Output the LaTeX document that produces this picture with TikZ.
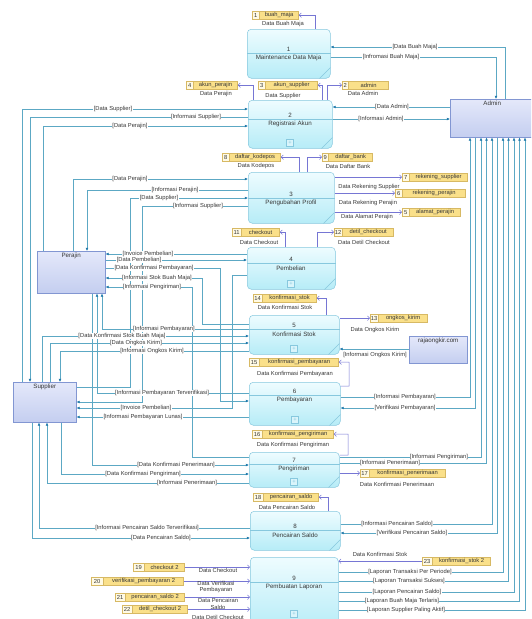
\documentclass[tikz,border=0pt]{standalone}
\usepackage{fontspec}
\setmainfont{Liberation Sans}
\usetikzlibrary{arrows.meta,calc}
\definecolor{procB}{RGB}{135,200,222}
\definecolor{procT}{RGB}{238,252,255}
\definecolor{procBot}{RGB}{182,236,247}
\definecolor{entB}{RGB}{130,150,210}
\definecolor{entT}{RGB}{228,232,250}
\definecolor{entBot}{RGB}{196,206,240}
\definecolor{flowC}{RGB}{92,168,196}
\definecolor{arrC}{RGB}{30,120,170}
\definecolor{dsC}{RGB}{118,118,212}
\definecolor{dsB}{RGB}{215,185,100}
\definecolor{dsFill}{RGB}{250,224,138}
\definecolor{dsNum}{RGB}{255,250,228}
\definecolor{txtC}{RGB}{55,55,55}
\newcommand\fs{\fontsize{5.8}{6.3}\selectfont}
\newcommand\fp{\fontsize{6.2}{6.8}\selectfont}
\newcommand\proc[8]{%
  \node[procbox, minimum width={#4pt-#2pt}, minimum height={#5pt-#3pt}, anchor=north west] (#1) at (#2,#3) {};
  \draw[procB, line width=0.5pt] (#1.west |- 0,#6) -- (#1.east |- 0,#6);
  \draw[procB, line width=0.5pt] ($(#1.south east)+(-11,0)$) -- ($(#1.south east)+(0,-11)$);
  \node[ptext] (#1num) at ({(#2+#4)/2},#6-4) {#7};
  \node[ptext] (#1lab) at ({(#2+#4)/2},#6+5) {#8};}
\newcommand\dstore[7]{%
  \node[dsnumbox, minimum width=#4pt, anchor=north west] (#1n) at (#2,#3) {#6};
  \node[dsnamebox, minimum width=#5pt, anchor=north west] (#1) at (#1n.north east) {#7};}
\newcommand\lab[4]{\node[lbl] (#1) at (#2,#3) {#4};}
\newcommand\dlab[4]{\node[dtext] (#1) at (#2,#3) {#4};}
\begin{document}
\begin{tikzpicture}[x=1pt,y=-1pt,
  procbox/.style={draw=procB, line width=0.5pt, rounded corners=4pt, top color=procT, bottom color=procBot, inner sep=0},
  entbox/.style={draw=entB, line width=0.5pt, top color=entT, bottom color=entBot, inner sep=0},
  ptext/.style={font=\fp, text=txtC, inner sep=0},
  etext/.style={font=\fp, text=txtC, inner sep=2pt},
  dsnumbox/.style={draw=dsB, line width=0.4pt, fill=dsNum, minimum height=8pt, inner sep=0, font=\fs, text=txtC},
  dsnamebox/.style={draw=dsB, line width=0.4pt, fill=dsFill, minimum height=8pt, inner sep=0, font=\fs, text=txtC},
  plusbox/.style={draw=procB, line width=0.4pt, fill=white!50!procBot, minimum size=7pt, inner sep=0, font=\fs, text=procB},
  lbl/.style={font=\fs, text=txtC, fill=white, inner sep=0.4pt},
  dtext/.style={font=\fs, text=txtC, inner sep=0, align=center},
  flow/.style={draw=flowC, line width=0.5pt},
  fin/.style={flow, -{Latex[length=3.2pt,width=2.8pt,color=arrC]}},
  dflow/.style={draw=dsC, line width=0.5pt, -{Straight Barb[length=2.2pt,width=4.5pt]}}
]
\useasboundingbox (0,0) rectangle (531,619);
\clip (0,0) rectangle (531,619);

% ---------- processes ----------
\proc{p1}{247}{29}{330}{78}{53}{1}{Maintenance Data Maja}
\proc{p2}{248}{100}{332}{148}{119}{2}{Registrasi Akun}
\proc{p3}{248}{172}{334}{223}{198}{3}{Pengubahan Profil}
\proc{p4}{247}{247}{335}{289}{263}{4}{Pembelian}
\proc{p5}{249}{315}{339}{354}{329}{5}{Konfirmasi Stok}
\proc{p6}{249}{382}{340}{425}{395}{6}{Pembayaran}
\proc{p7}{249}{452}{339}{487}{464}{7}{Pengiriman}
\proc{p8}{250}{511}{340}{550}{530}{8}{Pencairan Saldo}
\proc{p9}{250}{557}{338}{630}{582}{9}{Pembuatan Laporan}
\node[plusbox] (p2plus) at (290,143) {+};
\node[plusbox] (p4plus) at (291,284) {+};
\node[plusbox] (p5plus) at (294,349) {+};
\node[plusbox] (p6plus) at (295,420) {+};
\node[plusbox] (p7plus) at (294,482) {+};
\node[plusbox] (p9plus) at (294,614) {+};

% ---------- entities ----------
\node[entbox, minimum width=84pt, minimum height=38pt, anchor=north west] (adm) at (450,99) {};
\node[etext, anchor=north] (admT) at (adm.north) {Admin};
\node[entbox, minimum width=68pt, minimum height=42pt, anchor=north west] (per) at (37,251) {};
\node[etext, anchor=north] (perT) at (per.north) {Perajin};
\node[entbox, minimum width=63pt, minimum height=40pt, anchor=north west] (sup) at (13,382) {};
\node[etext, anchor=north] (supT) at (sup.north) {Supplier};
\node[entbox, minimum width=58pt, minimum height=27pt, anchor=north west] (raja) at (409,336) {};
\node[etext, anchor=north] (rajaT) at (raja.north) {rajaongkir.com};

% ---------- data stores ----------
\dstore{s1}{252}{11}{7}{39}{1}{buah\_maja}
\dstore{s4}{186}{81}{7}{44}{4}{akun\_perajin}
\dstore{s3}{258}{81}{7}{52}{3}{akun\_supplier}
\dstore{s2}{342}{81}{6}{40}{2}{admin}
\dstore{s8}{222}{153}{7}{51}{8}{daftar\_kodepos}
\dstore{s9}{322}{153}{6}{44}{9}{daftar\_bank}
\dstore{s7}{402}{173}{7}{58}{7}{rekening\_supplier}
\dstore{s6}{395}{189}{7}{63}{6}{rekening\_perajin}
\dstore{s5}{402}{208}{7}{51}{5}{alamat\_perajin}
\dstore{s11}{232}{228}{9}{38}{11}{checkout}
\dstore{s12}{334}{228}{8}{51}{12}{detil\_checkout}
\dstore{s14}{253}{294}{9}{54}{14}{konfirmasi\_stok}
\dstore{s13}{370}{314}{8}{49}{13}{ongkos\_kirim}
\dstore{s15}{249}{358}{10}{79}{15}{konfirmasi\_pembayaran}
\dstore{s16}{252}{430}{10}{71}{16}{konfirmasi\_pengiriman}
\dstore{s17}{360}{469}{9}{76}{17}{konfirmasi\_penerimaan}
\dstore{s18}{253}{493}{10}{55}{18}{pencairan\_saldo}
\dstore{s23}{422}{557}{10}{58}{23}{konfirmasi\_stok 2}
\dstore{s19}{133}{563}{11}{40}{19}{checkout 2}
\dstore{s20}{91}{577}{12}{80}{20}{verifikasi\_pembayaran 2}
\dstore{s21}{115}{593}{10}{59}{21}{pencairan\_saldo 2}
\dstore{s22}{122}{605}{10}{55}{22}{detil\_checkout 2}

% ---------- data store flows ----------
\draw[dflow] (p1.north -| 315,0) |- (s1.east);
\draw[dflow] (p2.north -| 253,0) |- (s4.east);
\draw[dflow] (p2.north -| 322,0) |- (s3.east);
\draw[dflow] (p2.north -| 327,0) |- (s2n.west);
\draw[dflow] (p3.north -| 299,0) |- (s8.east);
\draw[dflow] (p3.north -| 307,0) |- (s9n.west);
\draw[dflow] (p3.east |- s7n.west) -- (s7n.west);
\draw[dflow] (p3.east |- s6n.west) -- (s6n.west);
\draw[dflow] (p3.east |- s5n.west) -- (s5n.west);
\draw[dflow] (p4.north -| 285,0) |- (s11.east);
\draw[dflow] (p4.north -| 317,0) |- (s12n.west);
\draw[dflow] (p5.north -| 326,0) |- (s14.east);
\draw[dflow] (p5.east |- s13n.west) -- (s13n.west);
\draw[dflow] (p6.east |- 0,386) -| (349,362) -- (s15.east);
\draw[dflow] (p7.east |- 0,455) -| (348,434) -- (s16.east);
\draw[dflow] (p7.east |- s17n.west) -- (s17n.west);
\draw[dflow] (p8.north -| 328,0) |- (s18.east);
\draw[dflow] (s19.east) -- (p9.west |- s19.east);
\draw[dflow] (s20.east) -- (p9.west |- s20.east);
\draw[dflow] (s21.east) -- (p9.west |- s21.east);
\draw[dflow] (s22.east) -- (p9.west |- s22.east);
\draw[dflow] (s23n.west) -- (p9.east |- s23n.west);

\dlab{t1}{283}{24}{Data Buah Maja}
\dlab{t4}{216}{94}{Data Perajin}
\dlab{t3}{283}{96}{Data Supplier}
\dlab{t2}{363}{93}{Data Admin}
\dlab{t8}{256}{166}{Data Kodepos}
\dlab{t9}{348}{166}{Data Daftar Bank}
\dlab{t7}{369}{187}{Data Rekening Supplier}
\dlab{t6}{368}{203}{Data Rekening Perajin}
\dlab{t5}{367}{217}{Data Alamat Perajin}
\dlab{t11}{259}{242}{Data Checkout}
\dlab{t12}{364}{242}{Data Detil Checkout}
\dlab{t14}{285}{307}{Data Konfirmasi Stok}
\dlab{t13}{375}{330}{Data Ongkos Kirim}
\dlab{t15}{295}{374}{Data Konfirmasi Pembayaran}
\dlab{t16}{293}{445}{Data Konfirmasi Pengiriman}
\dlab{t17}{397}{484}{Data Konfirmasi Penerimaan}
\dlab{t18}{287}{507}{Data Pencairan Saldo}
\dlab{t23}{380}{554}{Data Konfirmasi Stok}
\dlab{t19}{218}{570}{Data Checkout}
\dlab{t20}{216}{587}{Data Verifikasi\\Pembayaran}
\dlab{t21}{218}{604}{Data Pencairan\\Saldo}
\dlab{t22}{218}{617}{Data Detil Checkout}

% ---------- Admin flows ----------
\draw[fin] (adm.north -| 505,0) |- (p1.east |- 0,47);
\draw[fin] (p1.east |- 0,57) -| (adm.north -| 496,0);
\draw[fin] (adm.west |- 0,107) -- (p2.east |- 0,107);
\draw[fin] (p2.east |- 0,119) -- (adm.west |- 0,119);
\draw[fin] (p6.east |- 0,397) -| (adm.south -| 470,0);
\draw[fin] (adm.south -| 475.5,0) |- (p6.east |- 0,408);
\draw[fin] (p7.east |- 0,457) -| (adm.south -| 481,0);
\draw[fin] (p7.east |- 0,463) -| (adm.south -| 486.5,0);
\draw[fin] (p8.east |- 0,524) -| (adm.south -| 492,0);
\draw[fin] (adm.south -| 497.5,0) |- (p8.east |- 0,533);
\draw[fin] (p9.east |- 0,572) -| (adm.south -| 503,0);
\draw[fin] (p9.east |- 0,581) -| (adm.south -| 508.5,0);
\draw[fin] (p9.east |- 0,592) -| (adm.south -| 514,0);
\draw[fin] (p9.east |- 0,601) -| (adm.south -| 519.5,0);
\draw[fin] (p9.east |- 0,610) -| (adm.south -| 525,0);
\draw[fin] (raja.west |- 0,349) -- (p5.east |- 0,349);

% ---------- Supplier / Perajin flows ----------
\draw[fin] (sup.north -| 22,0) |- (p2.west |- 0,109);
\draw[fin] (p2.west |- 0,117) -| (sup.north -| 30,0);
\draw[fin] (per.north -| 43,0) |- (p2.west |- 0,126);
\draw[fin] (per.north -| 73,0) |- (p3.west |- 0,179);
\draw[fin] (p3.west |- 0,190) -| (per.north -| 87,0);
\draw[fin] (sup.east |- 0,387) -| (130,198) -- (p3.west |- 0,198);
\draw[fin] (p3.west |- 0,206) -| (142,402) -- (sup.east |- 0,402);
\draw[fin] (p4.west |- 0,254) -- (per.east |- 0,254);
\draw[fin] (per.east |- 0,260) -- (p4.west |- 0,260);
\draw[fin] (per.east |- 0,268) -| (220,401) -- (p6.west |- 0,401);
\draw[fin] (p5.west |- 0,324) -| (202,278) -- (per.east |- 0,278);
\draw[fin] (p7.west |- 0,457) -| (192,287) -- (per.east |- 0,287);
\draw[fin] (p4.west |- 0,275) -| (232,408) -- (sup.east |- 0,408);
\draw[fin] (p5.west |- 0,329) -| (per.south -| 102,0);
\draw[fin] (sup.north -| 42,0) |- (p5.west |- 0,336);
\draw[fin] (sup.north -| 50,0) |- (p5.west |- 0,343);
\draw[fin] (p5.west |- 0,351) -| (sup.north -| 60,0);
\draw[fin] (p6.west |- 0,393) -| (per.south -| 97,0);
\draw[fin] (p6.west |- 0,417) -- (sup.east |- 0,417);
\draw[fin] (per.south -| 92,0) |- (p7.west |- 0,465);
\draw[fin] (sup.south -| 61,0) |- (p7.west |- 0,474);
\draw[fin] (p7.west |- 0,483) -| (sup.south -| 47,0);
\draw[fin] (p8.west |- 0,528) -| (sup.south -| 39,0);
\draw[fin] (sup.south -| 32,0) |- (p8.west |- 0,538);

% ---------- flow labels ----------
\lab{l1}{415}{47}{[Data Buah Maja]}
\lab{l2}{391}{57}{[Infromasi Buah Maja]}
\lab{l3}{392}{107}{[Data Admin]}
\lab{l4}{381}{119}{[Informasi Admin]}
\lab{l5}{113}{109}{[Data Supplier]}
\lab{l6}{196}{117}{[Informasi Supplier]}
\lab{l7}{130}{126}{[Data Perajin]}
\lab{l8}{130}{179}{[Data Perajin]}
\lab{l9}{175}{190}{[Informasi Perajin]}
\lab{l10}{159}{198}{[Data Supplier]}
\lab{l11}{198}{206}{[Informasi Supplier]}
\lab{l12}{148}{254}{[Invoice Pembelian]}
\lab{l13}{139}{260}{[Data Pembelian]}
\lab{l14}{154}{268}{[Data Konfirmasi Pembayaran]}
\lab{l15}{157}{278}{[Informasi Stok Buah Maja]}
\lab{l16}{152}{287}{[Informasi Pengiriman]}
\lab{l17}{164}{329}{[Informasi Pembayaran]}
\lab{l18}{122}{336}{[Data Konfirmasi Stok Buah Maja]}
\lab{l19}{136}{343}{[Data Ongkos Kirim]}
\lab{l20}{152}{351}{[Informasi Ongkos Kirim]}
\node[dtext] (l21) at (375,355) {[Informasi Ongkos Kirim]};
\lab{l22}{162}{393}{[Informasi Pembayaran Terverifikasi]}
\lab{l23}{146}{408}{[Invoice Pembelian]}
\lab{l24}{143}{417}{[Informasi Pembayaran Lunas]}
\lab{l25}{405}{397}{[Informasi Pembayaran]}
\lab{l26}{405}{408}{[Verifikasi Pembayaran]}
\lab{l27}{439}{457}{[Informasi Pengiriman]}
\lab{l28}{390}{463}{[Informasi Penerimaan]}
\lab{l29}{176}{465}{[Data Konfirmasi Penerimaan]}
\lab{l30}{143}{474}{[Data Konfirmasi Pengiriman]}
\lab{l31}{187}{483}{[Informasi Penerimaan]}
\lab{l32}{147}{528}{[Informasi Pencairan Saldo Terverifikasi]}
\lab{l33}{161}{538}{[Data Pencairan Saldo]}
\lab{l34}{397}{524}{[Informasi Pencairan Saldo]}
\lab{l35}{412}{533}{[Verifikasi Pencairan Saldo]}
\lab{l36}{410}{572}{[Laporan Transaksi Per Periode]}
\lab{l37}{409}{581}{[Laporan Transaksi Sukses]}
\lab{l38}{407}{592}{[Laporan Pencairan Saldo]}
\lab{l39}{402}{601}{[Laporan Buah Maja Terlaris]}
\lab{l40}{406}{610}{[Laporan Supplier Paling Aktif]}
\end{tikzpicture}
\end{document}
